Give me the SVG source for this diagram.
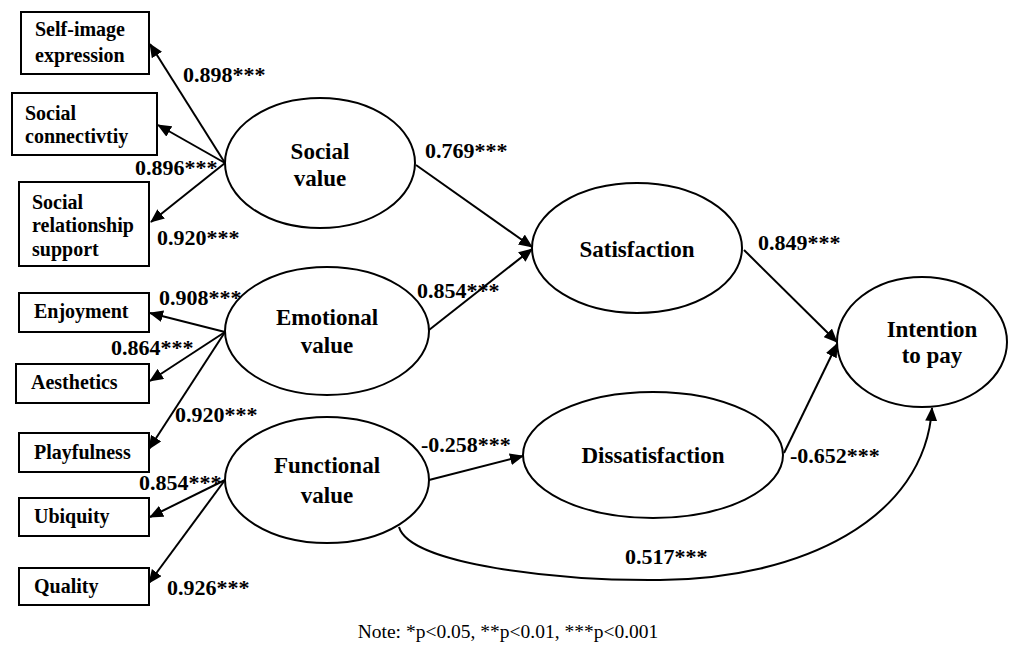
<svg xmlns="http://www.w3.org/2000/svg" width="1016" height="653" viewBox="0 0 1016 653">
<style>
.box{fill:#fff;stroke:#000;stroke-width:2}
.ell{fill:#fff;stroke:#000;stroke-width:2}
.bt,.nt,.el{font-family:"Liberation Serif","Times New Roman",serif;font-weight:bold;fill:#000}
.bt{font-size:20px}
.nt{font-size:23px;text-anchor:middle}
.el{font-size:22px}
.note{font-family:"Liberation Serif","Times New Roman",serif;font-size:19.5px;fill:#000;text-anchor:middle}
.c{fill:none;stroke:#000;stroke-width:2;marker-end:url(#ah)}
</style>
<defs>
<marker id="ah" markerUnits="userSpaceOnUse" markerWidth="14" markerHeight="12" refX="13" refY="6" orient="auto">
<path d="M0,0 L14,6 L0,12 Z" fill="#000"/>
</marker>
</defs>
<rect width="1016" height="653" fill="#fff"/>
<g id="connectors">
<line class="c" x1="225" y1="163" x2="150" y2="44"/>
<line class="c" x1="225" y1="163" x2="158" y2="125"/>
<line class="c" x1="225" y1="163" x2="151" y2="222"/>
<line class="c" x1="225" y1="332" x2="150" y2="313"/>
<line class="c" x1="225" y1="332" x2="150" y2="381"/>
<line class="c" x1="225" y1="332" x2="149" y2="449"/>
<line class="c" x1="225" y1="480" x2="150" y2="517"/>
<line class="c" x1="225" y1="480" x2="149" y2="583"/>
<line class="c" x1="416" y1="165" x2="532" y2="247"/>
<line class="c" x1="429" y1="330" x2="532" y2="249"/>
<line class="c" x1="744" y1="250" x2="837" y2="342"/>
<line class="c" x1="784" y1="453" x2="837" y2="344"/>
<line class="c" x1="429" y1="480" x2="523" y2="456"/>
<path class="c" d="M399,527 C410,565 560,581 660,580 C800,579 925,520 932,408"/>
<text class="el" x="183" y="82">0.898***</text>
<text class="el" x="135" y="175">0.896***</text>
<text class="el" x="157" y="245">0.920***</text>
<text class="el" x="159" y="305">0.908***</text>
<text class="el" x="111" y="355">0.864***</text>
<text class="el" x="175" y="422">0.920***</text>
<text class="el" x="139" y="490">0.854***</text>
<text class="el" x="167" y="595">0.926***</text>
<text class="el" x="425" y="158">0.769***</text>
<text class="el" x="417" y="298">0.854***</text>
<text class="el" x="758" y="250">0.849***</text>
<text class="el" x="790" y="463">-0.652***</text>
<text class="el" x="421" y="452">-0.258***</text>
<text class="el" x="625" y="564">0.517***</text>
</g>
<g id="n-selfimage"><rect class="box" x="21" y="12" width="128" height="62"/><text class="bt" x="35" y="36">Self-image</text><text class="bt" x="35" y="62">expression</text></g>
<g id="n-connectivity"><rect class="box" x="12" y="93" width="145" height="62"/><text class="bt" x="25" y="120">Social</text><text class="bt" x="25" y="143">connectivtiy</text></g>
<g id="n-relationship"><rect class="box" x="19" y="182" width="130" height="84"/><text class="bt" x="32" y="209">Social</text><text class="bt" x="32" y="232">relationship</text><text class="bt" x="32" y="256">support</text></g>
<g id="n-enjoyment"><rect class="box" x="19" y="293" width="130" height="39"/><text class="bt" x="34" y="318">Enjoyment</text></g>
<g id="n-aesthetics"><rect class="box" x="16" y="364" width="133" height="39"/><text class="bt" x="31" y="389">Aesthetics</text></g>
<g id="n-playfulness"><rect class="box" x="19" y="433" width="130" height="39"/><text class="bt" x="34" y="459">Playfulness</text></g>
<g id="n-ubiquity"><rect class="box" x="19" y="498" width="130" height="38"/><text class="bt" x="34" y="523">Ubiquity</text></g>
<g id="n-quality"><rect class="box" x="19" y="568" width="130" height="37"/><text class="bt" x="34" y="593">Quality</text></g>
<g id="n-social"><ellipse class="ell" cx="320" cy="163" rx="95" ry="65"/><text class="nt" x="320" y="159">Social</text><text class="nt" x="320" y="186">value</text></g>
<g id="n-emotional"><ellipse class="ell" cx="327" cy="331" rx="102" ry="64"/><text class="nt" x="327" y="325">Emotional</text><text class="nt" x="327" y="353">value</text></g>
<g id="n-functional"><ellipse class="ell" cx="327" cy="480" rx="102" ry="63"/><text class="nt" x="327" y="473">Functional</text><text class="nt" x="327" y="503">value</text></g>
<g id="n-satisfaction"><ellipse class="ell" cx="637" cy="248" rx="105" ry="65"/><text class="nt" x="637" y="257">Satisfaction</text></g>
<g id="n-dissatisfaction"><ellipse class="ell" cx="653" cy="455" rx="130" ry="63"/><text class="nt" x="653" y="463">Dissatisfaction</text></g>
<g id="n-intention"><ellipse class="ell" cx="922" cy="342" rx="85" ry="65"/><text class="nt" x="932" y="337">Intention</text><text class="nt" x="932" y="363">to pay</text></g>
<g id="note"><text class="note" x="508" y="638">Note: *p&lt;0.05, **p&lt;0.01, ***p&lt;0.001</text></g>
</svg>
